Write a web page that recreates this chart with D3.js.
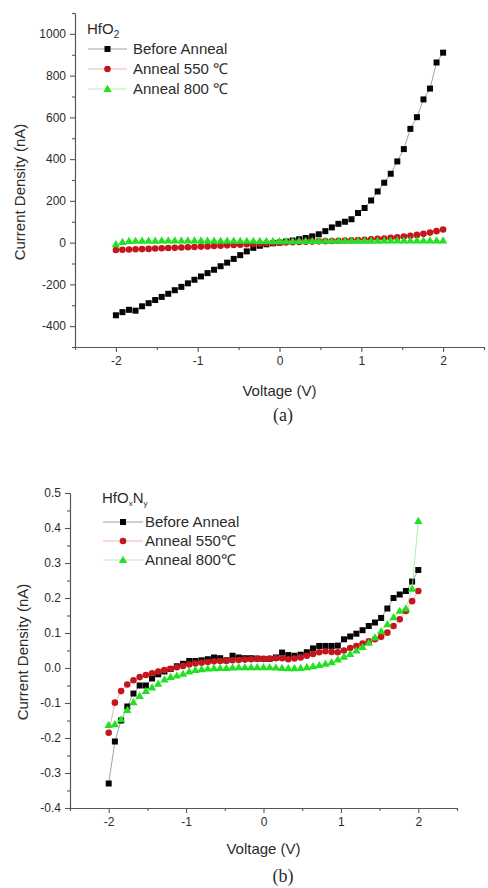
<!DOCTYPE html>
<html lang="en">
<head>
    <meta charset="UTF-8">
    <script src="https://cdn.jsdelivr.net/npm/d3@7"></script>
    <style>
        body { margin: 0; background: #fff; }
        text { font-family: "Liberation Sans", Arial, sans-serif; fill: #2b2b2b; }
    </style>
</head>
<body>
<div id="fig"></div>
<script>

    // voltage sweep, shared by both panels
    const voltage = [-2.00,-1.92,-1.84,-1.76,-1.68,-1.60,-1.52,-1.44,-1.36,-1.28,-1.20,-1.12,-1.04,-0.96,-0.88,-0.80,-0.72,-0.64,-0.56,-0.48,-0.40,-0.32,-0.24,-0.16,-0.08,
        0,0.08,0.16,0.24,0.32,0.40,0.48,0.56,0.64,0.72,0.80,0.88,0.96,1.04,1.12,1.20,1.28,1.36,1.44,1.52,1.60,1.68,1.76,1.84,1.92,2.00];

    // (a) HfO2, nA
    const hfoBefore = [-348,-333,-322,-326,-305,-290,-275,-260,-245,-228,-212,-195,-178,-162,-146,-130,-113,-96,-78,-60,-42,-25,-15,-8,-3,
        0,5,10,16,22,30,40,55,73,90,100,112,142,166,202,245,287,330,389,448,545,601,686,738,863,910];
    const hfo550 = [-35,-34,-33,-32,-31,-30,-28,-27,-26,-25,-23,-22,-21,-19,-18,-16,-15,-13,-11,-10,-8,-6,-5,-3,-1,
        0,1,2,3,4,5,6,7,8,9,10,11,12,14,16,18,20,23,26,29,33,37,42,48,55,63];
    const hfo800 = [-8,3,7,8,9,9,9,10,10,10,10,10,10,10,9,9,9,9,9,8,8,8,7,7,6,
        6,6,6,7,7,7,7,8,8,8,8,9,9,9,9,9,10,10,10,10,10,10,10,10,10,10];

    // (b) HfOxNy, nA
    const hfonBefore = [-0.33,-0.21,-0.15,-0.11,-0.073,-0.05,-0.05,-0.03,-0.018,-0.01,-0.003,0.005,0.012,0.02,0.02,0.022,0.025,0.03,0.028,0.022,0.035,0.03,0.028,0.028,0.027,
        0.026,0.026,0.03,0.044,0.037,0.035,0.038,0.045,0.056,0.063,0.063,0.063,0.064,0.082,0.09,0.098,0.108,0.12,0.13,0.143,0.17,0.2,0.21,0.22,0.247,0.28];
    const hfon550 = [-0.185,-0.099,-0.066,-0.047,-0.035,-0.026,-0.02,-0.015,-0.01,-0.006,-0.002,0.002,0.006,0.01,0.013,0.015,0.017,0.019,0.02,0.021,0.022,0.023,0.024,0.025,0.026,
        0.026,0.027,0.028,0.028,0.025,0.027,0.03,0.035,0.04,0.045,0.048,0.046,0.045,0.05,0.057,0.063,0.07,0.076,0.082,0.089,0.101,0.12,0.139,0.163,0.191,0.22];
    const hfon800 = [-0.163,-0.161,-0.147,-0.12,-0.098,-0.08,-0.066,-0.056,-0.045,-0.033,-0.026,-0.022,-0.017,-0.01,-0.006,-0.004,-0.002,-0.001,0,0,0.001,0.002,0.002,0.002,0.002,
        0.002,0.002,0.001,0,-0.001,-0.001,0,0.002,0.005,0.008,0.012,0.016,0.024,0.032,0.04,0.05,0.06,0.072,0.087,0.105,0.125,0.145,0.163,0.17,0.226,0.42];

    const xTicks = [-2,-1,0,1,2];
    const xMinor = [-2.5,-1.5,-0.5,0.5,1.5,2.5];
    const yTicksA = [-400,-200,0,200,400,600,800,1000];
    const yMinorA = [-500,-300,-100,100,300,500,700,900,1100];
    const yTicksB = [-0.4,-0.3,-0.2,-0.1,0,0.1,0.2,0.3,0.4,0.5];
    const yMinorB = [-0.35,-0.25,-0.15,-0.05,0.05,0.15,0.25,0.35,0.45];

    const seriesNames = ["Before Anneal","Anneal 550 \u2103","Anneal 800 \u2103"];
    const seriesNamesB = ["Before Anneal","Anneal 550\u2103","Anneal 800\u2103"];

    const width = 488, height = 888;
    const svg = d3.select("#fig").append("svg")
        .attr("width", width)
        .attr("height", height);

    const styles = [
        {marker: "square",   fill: "#050505", line: "#8a8a8a"},
        {marker: "circle",   fill: "#c4161c", line: "#f0a0a0"},
        {marker: "triangle", fill: "#22e022", line: "#9ee89e"}
    ];

    function drawMarker(g, kind, fill, x, y) {
        if (kind === "square") {
            g.append("rect").attr("x", x - 3).attr("y", y - 3).attr("width", 6).attr("height", 6)
                .attr("fill", fill);
        } else if (kind === "circle") {
            g.append("circle").attr("cx", x).attr("cy", y).attr("r", 3.3).attr("fill", fill);
        } else {
            g.append("path").attr("d", d3.symbol(d3.symbolTriangle, 30)()).attr("transform", `translate(${x},${y+0.5})`)
                .attr("fill", fill);
        }
    }

    function panel(p) {
        const x = d3.scaleLinear().domain([-2.5, 2.5]).range(p.xRange);
        const y = d3.scaleLinear().domain(p.yDomain).range(p.yRange);
        const g = svg.append("g");

        // axes
        g.append("g").attr("transform", `translate(0,${p.yRange[0]})`)
            .call(d3.axisBottom(x).tickValues(xTicks).tickSize(5).tickSizeOuter(0).tickPadding(4).tickFormat(d => String(d)));
        g.append("g").attr("transform", `translate(0,${p.yRange[0]})`)
            .call(d3.axisBottom(x).tickValues(xMinor).tickSize(3).tickSizeOuter(0).tickFormat(""));
        g.append("g").attr("transform", `translate(${p.xRange[0]},0)`)
            .call(d3.axisLeft(y).tickValues(p.yTicks).tickSize(5).tickSizeOuter(0).tickPadding(4).tickFormat(p.yFormat));
        g.append("g").attr("transform", `translate(${p.xRange[0]},0)`)
            .call(d3.axisLeft(y).tickValues(p.yMinor).tickSize(3).tickSizeOuter(0).tickFormat(""));
        g.selectAll(".domain, .tick line").attr("stroke", "#555").attr("stroke-width", 1.1);
        g.selectAll(".tick text").style("font-size", "12px").style("font-family", "Liberation Sans, Arial, sans-serif").attr("fill", "#444");

        // data
        p.series.forEach((vals, i) => {
            const st = styles[i];
            const pts = voltage.map((v, k) => [x(v), y(vals[k])]);
            g.append("path")
                .attr("d", d3.line()(pts))
                .attr("fill", "none")
                .attr("stroke", st.line)
                .attr("stroke-width", 0.8);
            const mg = g.append("g");
            pts.forEach(d => drawMarker(mg, st.marker, st.fill, d[0], d[1]));
        });

        // legend
        const lg = g.append("g");
        const title = lg.append("text").attr("x", p.legend.x).attr("y", p.legend.titleY).style("font-size", "15px");
        p.title(title);
        p.names.forEach((name, i) => {
            const st = styles[i];
            const ly = p.legend.y0 + i * p.legend.dy;
            lg.append("line").attr("x1", p.legend.lx0).attr("x2", p.legend.lx1).attr("y1", ly).attr("y2", ly)
                .attr("stroke", st.line).attr("stroke-width", 0.8);
            drawMarker(lg, st.marker, st.fill, (p.legend.lx0 + p.legend.lx1) / 2, ly);
            lg.append("text").attr("x", p.legend.tx).attr("y", ly + 5).style("font-size", "15px").text(name);
        });

        // axis titles
        g.append("text")
            .attr("transform", `translate(${p.yLabel[0]},${p.yLabel[1]}) rotate(-90)`)
            .attr("text-anchor", "middle")
            .style("font-size", "15px")
            .text("Current Density (nA)");
        g.append("text")
            .attr("x", x(0)).attr("y", p.xLabelY)
            .attr("text-anchor", "middle")
            .style("font-size", "15px")
            .text("Voltage (V)");
        g.append("text")
            .attr("x", 283).attr("y", p.capY)
            .attr("text-anchor", "middle")
            .style("font-family", "Liberation Serif, Times New Roman, serif")
            .style("font-size", "18px")
            .attr("fill", "#000")
            .text(p.caption);
    }

    panel({
        xRange: [75, 484],
        yDomain: [-500, 1100],
        yRange: [347, 13],
        yTicks: yTicksA,
        yMinor: yMinorA,
        yFormat: d => String(d),
        series: [hfoBefore, hfo550, hfo800],
        names: seriesNames,
        title: t => { t.append("tspan").text("HfO"); t.append("tspan").attr("dy", 4).style("font-size", "10px").text("2"); },
        legend: {x: 87, titleY: 34, y0: 49, dy: 20, lx0: 88, lx1: 127, tx: 133},
        yLabel: [25, 192],
        xLabelY: 396,
        capY: 421,
        caption: "(a)"
    });

    panel({
        xRange: [70, 457],
        yDomain: [-0.4, 0.5],
        yRange: [808, 493],
        yTicks: yTicksB,
        yMinor: yMinorB,
        yFormat: d => d.toFixed(1),
        series: [hfonBefore, hfon550, hfon800],
        names: seriesNamesB,
        title: t => {
            t.append("tspan").text("HfO");
            t.append("tspan").attr("dy", 3).style("font-size", "8px").text("x");
            t.append("tspan").attr("dy", -3).text("N");
            t.append("tspan").attr("dy", 3).style("font-size", "8px").text("y");
        },
        legend: {x: 102, titleY: 503, y0: 522, dy: 19, lx0: 103, lx1: 143, tx: 145},
        yLabel: [28, 652],
        xLabelY: 854,
        capY: 882,
        caption: "(b)"
    });

</script>
</body>
</html>
